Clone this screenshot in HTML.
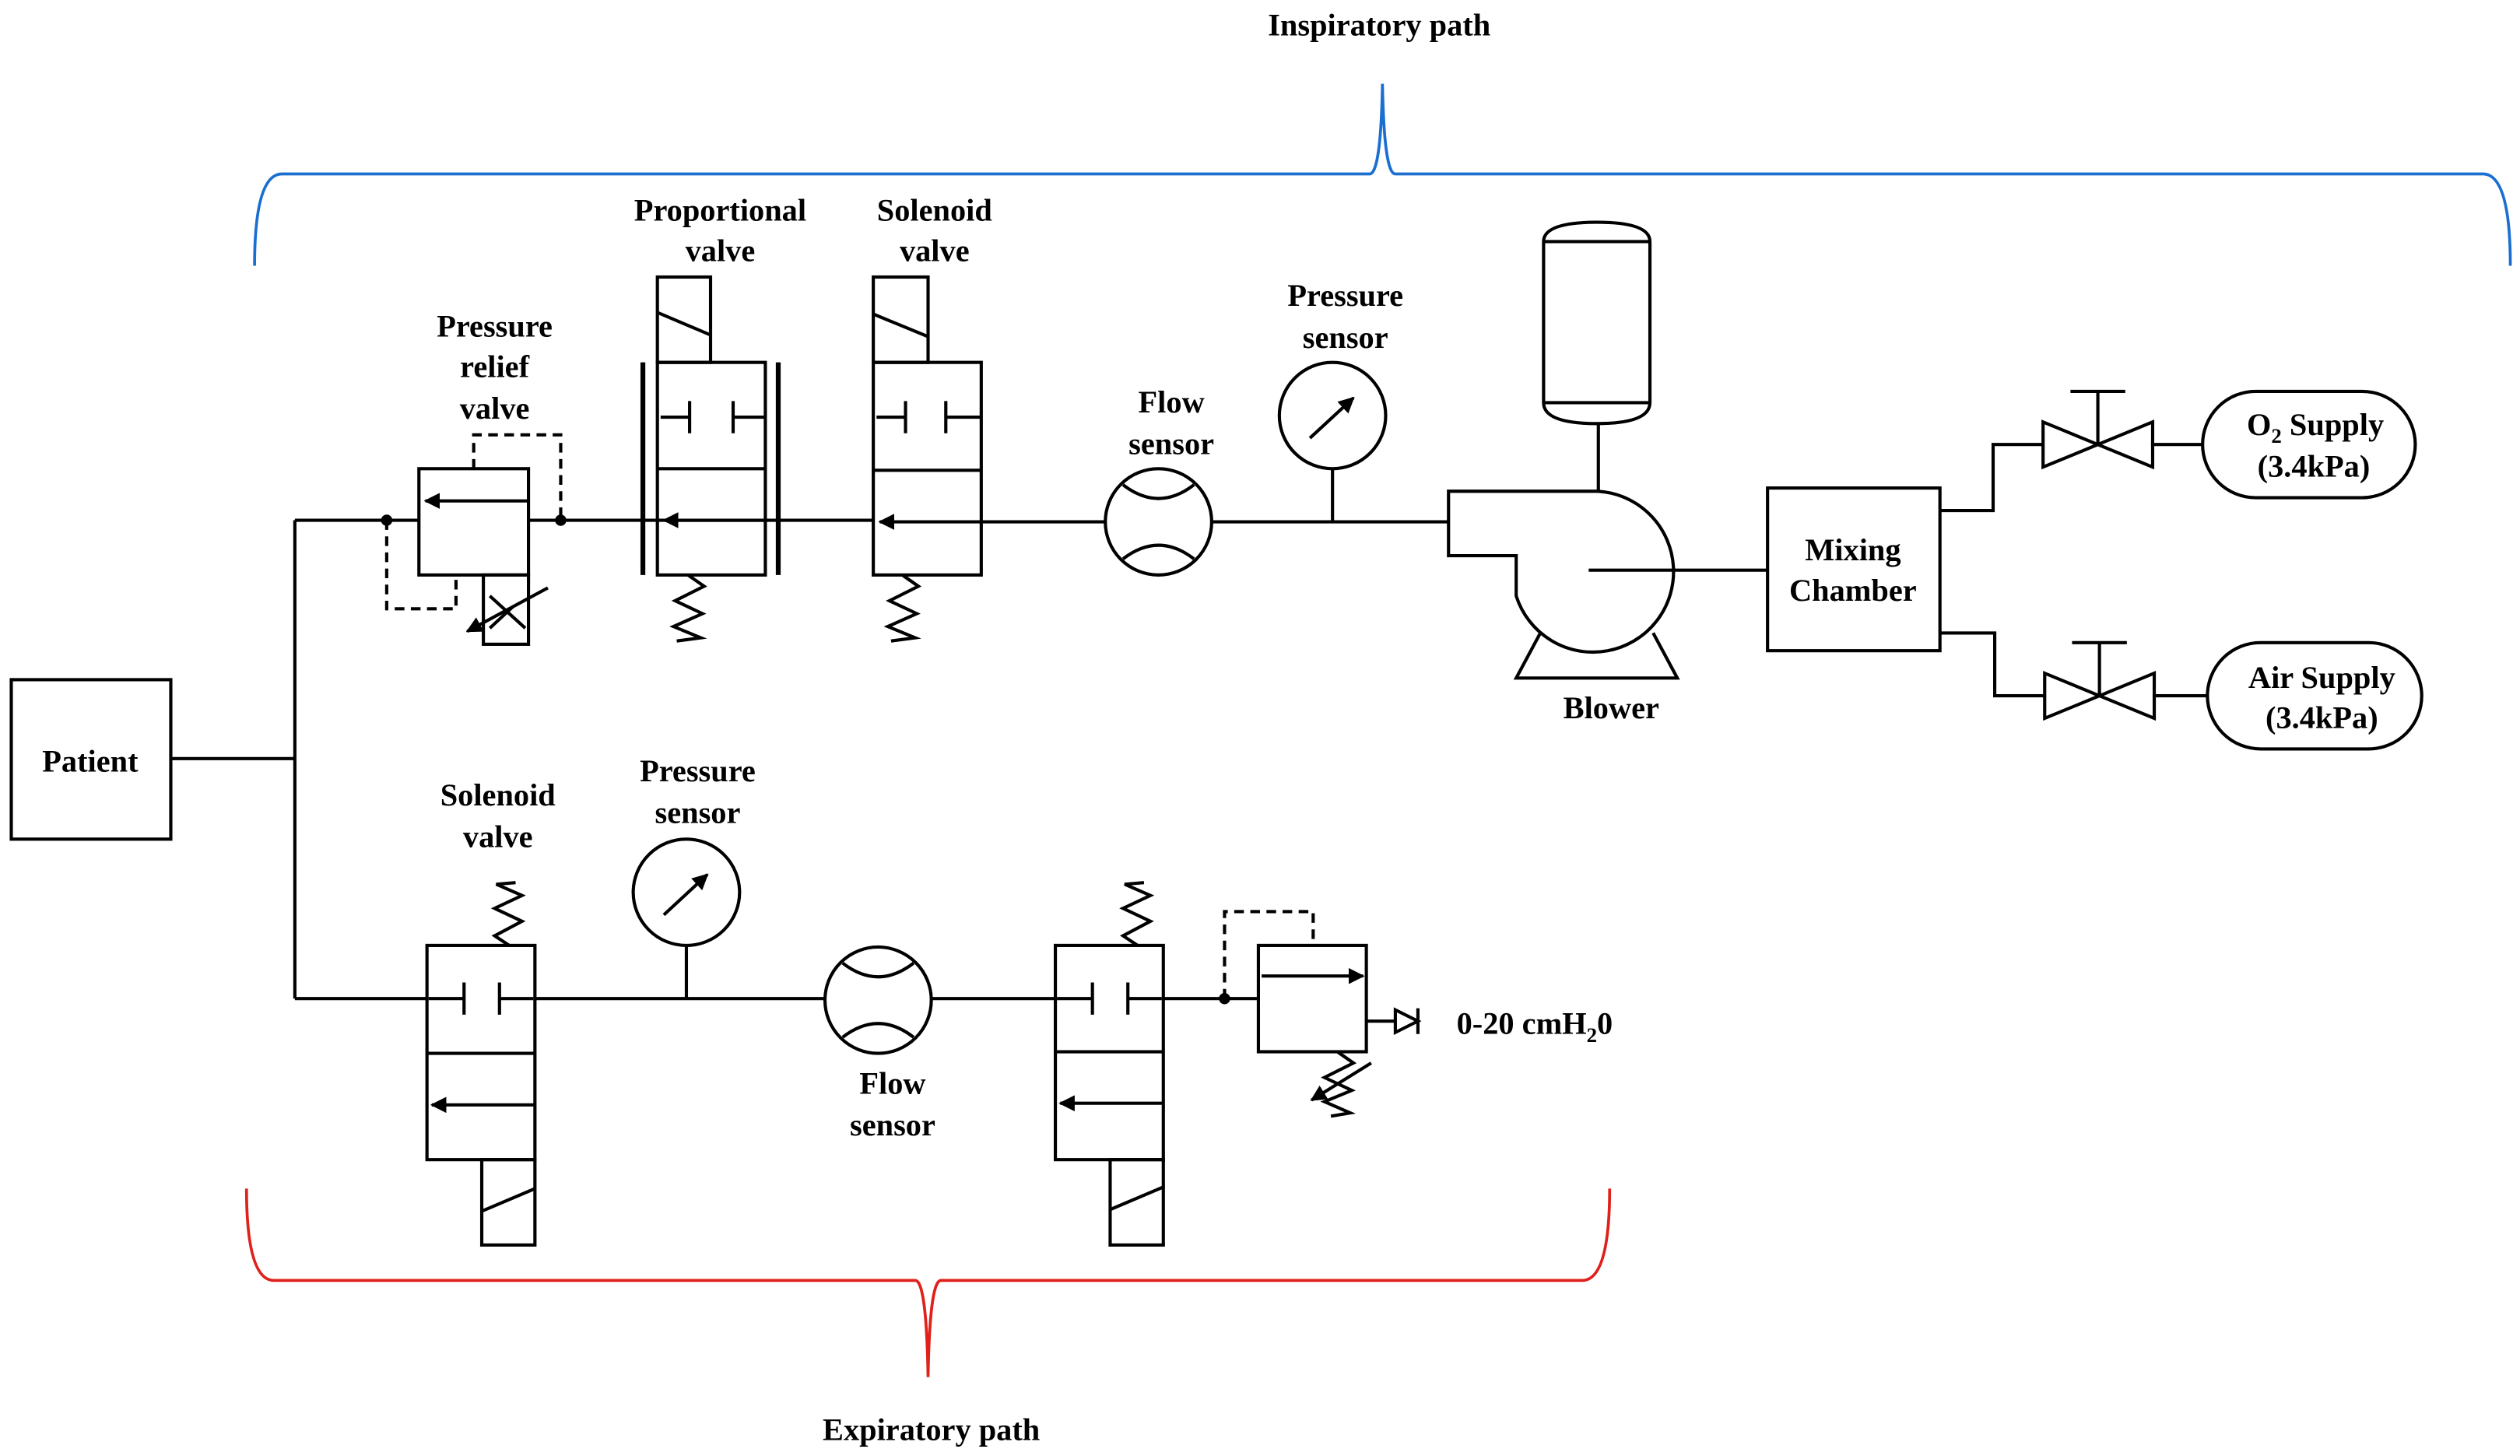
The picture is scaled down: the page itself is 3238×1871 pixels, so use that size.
<!DOCTYPE html>
<html><head><meta charset="utf-8"><style>
html,body{margin:0;padding:0;background:#fff;}
svg{display:block;}
text{font-family:"Liberation Serif",serif;font-weight:bold;font-size:19.5px;fill:#000;text-anchor:middle;}
</style></head><body>
<svg width="3238" height="1871" viewBox="0 0 1564 904" preserveAspectRatio="none" xmlns="http://www.w3.org/2000/svg">
<defs>
<marker id="ah" markerWidth="10" markerHeight="10" refX="9" refY="5" orient="auto" markerUnits="userSpaceOnUse"><path d="M0,0 L10,5 L0,10 Z" fill="#000"/></marker>
</defs>
<g fill="none" stroke="#000" stroke-width="2">
<path d="M158,165 Q158,108 175,108 L850,108 Q857,108 858,52 Q859,108 866,108 L1541,108 Q1558,108 1558,165" stroke="#1a6fd0" stroke-width="1.8"/>
<path d="M153,738 Q153,795 170,795 L568,795 Q575,795 576,855 Q577,795 584,795 L982,795 Q999,795 999,738" stroke="#e0201a" stroke-width="1.8"/>
<rect x="7" y="422" width="99" height="99"/>
<path d="M106,471 H183 M183,323 V620 M183,323 H260 M328,323 H542"/>
<rect x="260" y="291" width="68" height="66"/>
<line x1="328" y1="311" x2="264" y2="311" marker-end="url(#ah)"/>
<rect x="300" y="357" width="28" height="43"/>
<path d="M304,370 L326,390 M304,390 L318,377"/>
<line x1="340" y1="365" x2="290" y2="392" marker-end="url(#ah)"/>
<path d="M240,323 V378 H283 V357 M294,291 V270 H348 V323" stroke-dasharray="6,4"/>
<rect x="408" y="172" width="33" height="53"/>
<line x1="408" y1="194" x2="441" y2="208"/>
<rect x="408" y="225" width="67" height="132"/>
<line x1="408" y1="291" x2="475" y2="291"/>
<path d="M410,259 H428 M428,249 V269 M455,249 V269 M455,259 H475"/>
<line x1="475" y1="323" x2="412" y2="323" marker-end="url(#ah)"/>
<path d="M399,225 V357 M483,225 V357" stroke-width="3"/>
<path d="M427,357 L437,364 L419,373 L436,381 L418,389 L435,396 L420,398"/>
<rect x="542" y="172" width="34" height="53"/>
<line x1="542" y1="195" x2="576" y2="209"/>
<rect x="542" y="225" width="67" height="132"/>
<line x1="542" y1="292" x2="609" y2="292"/>
<path d="M544,259 H562 M562,249 V269 M587,249 V269 M587,259 H609"/>
<line x1="609" y1="324" x2="546" y2="324" marker-end="url(#ah)"/>
<path d="M560,357 L570,364 L552,373 L569,381 L551,389 L568,396 L553,398"/>
<path d="M609,324 H686 M752,324 H899"/>
<ellipse cx="719" cy="324" rx="33" ry="33"/>
<path d="M697,301 Q719,318 741,301 M697,347 Q719,330 741,347"/>
<circle cx="827" cy="258" r="33"/>
<line x1="827" y1="291" x2="827" y2="324"/>
<line x1="813" y1="272" x2="840" y2="247" marker-end="url(#ah)"/>
<path d="M899,305 H992 A50,50 0 1 1 941,370 V345 H899 Z"/>
<path d="M956,393 L941,421 H1041 L1026,393"/>
<path d="M986,354 H1097"/>
<path d="M958,150 Q958,138 991,138 Q1024,138 1024,150 V250 Q1024,263 991,263 Q958,263 958,250 Z M958,150 H1024 M958,250 H1024"/>
<line x1="992" y1="263" x2="992" y2="305"/>
<rect x="1097" y="303" width="107" height="101"/>
<path d="M1204,317 H1237 V276 H1268 M1335,276 H1367"/>
<path d="M1268,262 L1336,290 V262 L1268,290 Z M1302,276 V243 M1285,243 H1319"/>
<path d="M1204,393 H1238 V432 H1269 M1336,432 H1370"/>
<path d="M1269,418 L1337,446 V418 L1269,446 Z M1303,432 V399 M1286,399 H1320"/>
<rect x="1367" y="243" width="132" height="66" rx="33"/>
<rect x="1370" y="399" width="133" height="66" rx="33"/>
<path d="M183,620 H265 M332,620 H512 M578,620 H655 M722,620 H781"/>
<rect x="265" y="587" width="67" height="133"/>
<line x1="265" y1="654" x2="332" y2="654"/>
<path d="M288,610 V630 M310,610 V630 M266,620 H288 M310,620 H331"/>
<line x1="332" y1="686" x2="268" y2="686" marker-end="url(#ah)"/>
<rect x="299" y="720" width="33" height="53"/>
<line x1="299" y1="752" x2="332" y2="738"/>
<path d="M316,587 L307,581 L324,572 L307,564 L324,556 L308,549 L320,548"/>
<circle cx="426" cy="554" r="33"/>
<line x1="426" y1="587" x2="426" y2="620"/>
<line x1="412" y1="568" x2="439" y2="543" marker-end="url(#ah)"/>
<ellipse cx="545" cy="621" rx="33" ry="33"/>
<path d="M523,598 Q545,615 567,598 M523,644 Q545,627 567,644"/>
<rect x="655" y="587" width="67" height="133"/>
<line x1="655" y1="653" x2="722" y2="653"/>
<path d="M678,610 V630 M700,610 V630 M656,620 H678 M700,620 H721"/>
<line x1="722" y1="685" x2="658" y2="685" marker-end="url(#ah)"/>
<rect x="689" y="720" width="33" height="53"/>
<line x1="689" y1="751" x2="722" y2="737"/>
<path d="M706,587 L697,581 L714,572 L697,564 L714,556 L698,549 L710,548"/>
<path d="M760,620 V566 H815 V587" stroke-dasharray="6,4"/>
<rect x="781" y="587" width="67" height="66"/>
<line x1="783" y1="606" x2="846" y2="606" marker-end="url(#ah)"/>
<path d="M848,634 H866 M866,627 L880,634 L866,641 Z M880,626 V642"/>
<path d="M830,653 L840,660 L822,669 L839,677 L822,684 L838,691 L826,693"/>
<line x1="851" y1="660" x2="814" y2="683" marker-end="url(#ah)"/>
</g>
<circle cx="240" cy="323" r="3.5"/>
<circle cx="348" cy="323" r="3.5"/>
<circle cx="760" cy="620" r="3.5"/>
<text x="856" y="22">Inspiratory path</text>
<text x="578" y="894">Expiratory path</text>
<text x="56" y="479">Patient</text>
<text x="307" y="209">Pressure</text><text x="307" y="234">relief</text><text x="307" y="260">valve</text>
<text x="447" y="137">Proportional</text><text x="447" y="162">valve</text>
<text x="580" y="137">Solenoid</text><text x="580" y="162">valve</text>
<text x="727" y="256">Flow</text><text x="727" y="282">sensor</text>
<text x="835" y="190">Pressure</text><text x="835" y="216">sensor</text>
<text x="1000" y="446">Blower</text>
<text x="1150" y="348">Mixing</text><text x="1150" y="373">Chamber</text>
<text x="1437" y="270">O<tspan font-size="13" dy="5">2</tspan><tspan dy="-5"> Supply</tspan></text>
<text x="1436" y="296">(3.4kPa)</text>
<text x="1441" y="427">Air Supply</text>
<text x="1441" y="452">(3.4kPa)</text>
<text x="309" y="500">Solenoid</text><text x="309" y="526">valve</text>
<text x="433" y="485">Pressure</text><text x="433" y="511">sensor</text>
<text x="554" y="679">Flow</text><text x="554" y="705">sensor</text>
<text x="904" y="642" style="text-anchor:start">0-20 cmH<tspan font-size="13" dy="5">2</tspan><tspan dy="-5">0</tspan></text>
</svg>
</body></html>
